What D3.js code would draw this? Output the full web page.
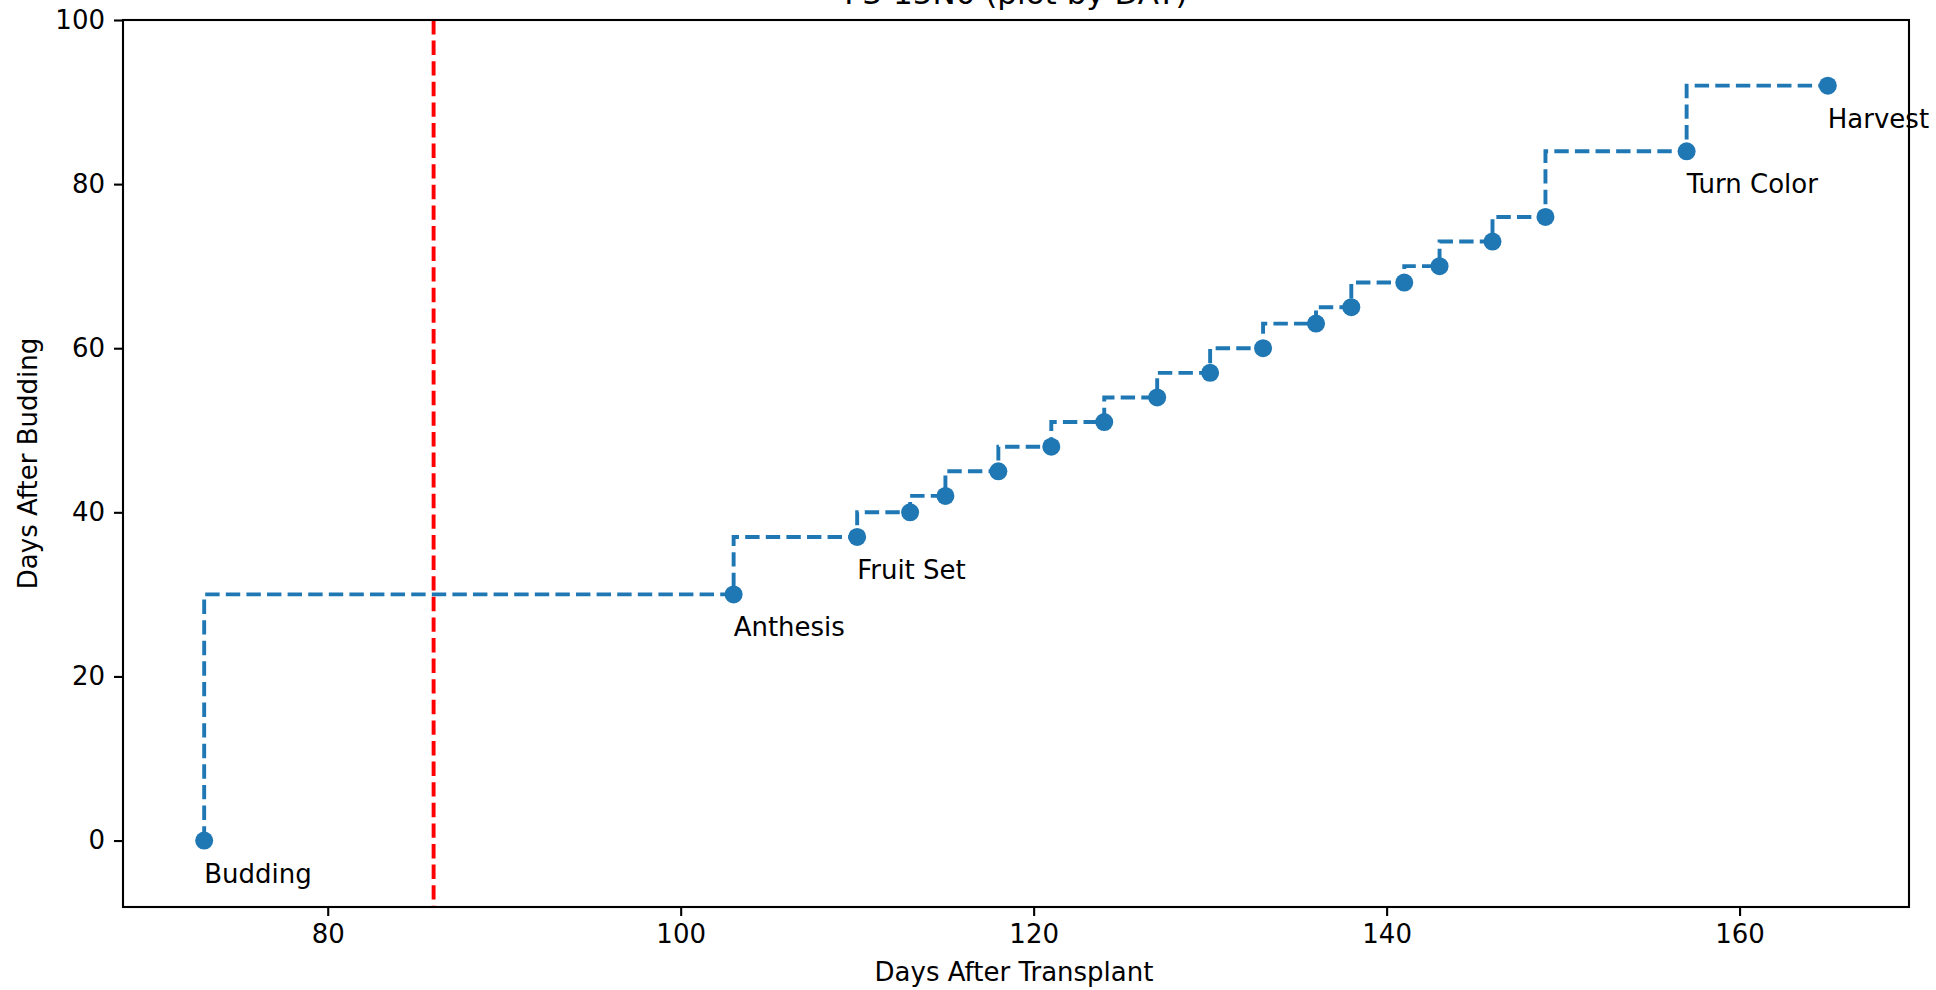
<!DOCTYPE html>
<html>
<head>
<meta charset="utf-8">
<script src="https://cdn.jsdelivr.net/npm/d3@7"></script>
<style>
  body { margin: 0; background: white; }
  text { font-family: "DejaVu Sans", sans-serif; }
</style>
</head>
<body>
<svg id="chart" width="1936" height="990"></svg>
<script>
// days after transplant / days after budding
const dat = [73, 103, 110, 113, 115, 118, 121, 124, 127, 130, 133, 136, 138, 141, 143, 146, 149, 157, 165];
const dab = [0, 30, 37, 40, 42, 45, 48, 51, 54, 57, 60, 63, 65, 68, 70, 73, 76, 84, 92];
const stageDat = [73, 103, 110, 157, 165];
const stageDab = [0, 30, 37, 84, 92];
const stageNames = ["Budding", "Anthesis", "Fruit Set", "Turn Color", "Harvest"];
const markerDat = [86];
const xTicks = [80, 100, 120, 140, 160];
const yTicks = [0, 20, 40, 60, 80, 100];

const margin = { left: 123, right: 1909, top: 20, bottom: 907 };
const fontSize = 26;
const blue = "#1f77b4";

const svg = d3.select("#chart");
svg.append("rect").attr("width", 1936).attr("height", 990).attr("fill", "white");

const x = d3.scaleLinear().domain([68.4, 169.6]).range([margin.left, margin.right]);
const y = d3.scaleLinear().domain([-8.1, 100]).range([margin.bottom, margin.top]);

const plot = svg.append("g");

// red reference line
plot.selectAll(".vline")
  .data(markerDat)
  .join("line")
  .attr("x1", (d) => x(d)).attr("x2", (d) => x(d))
  .attr("y1", margin.top).attr("y2", margin.bottom)
  .attr("stroke", "red")
  .attr("stroke-width", 3.9)
  .attr("stroke-dasharray", "14.4,6.2");

// step line
const points = dat.map((d, i) => [d, dab[i]]);
const line = d3.line()
  .x((d) => x(d[0]))
  .y((d) => y(d[1]))
  .curve(d3.curveStepBefore);

plot.append("path")
  .attr("d", line(points))
  .attr("fill", "none")
  .attr("stroke", blue)
  .attr("stroke-width", 3.9)
  .attr("stroke-dasharray", "14.4,6.2");

plot.selectAll("circle")
  .data(points)
  .join("circle")
  .attr("cx", (d) => x(d[0]))
  .attr("cy", (d) => y(d[1]))
  .attr("r", 9)
  .attr("fill", blue);

// stage labels
plot.selectAll(".stage")
  .data(stageNames)
  .join("text")
  .attr("class", "stage")
  .attr("x", (d, i) => x(stageDat[i]))
  .attr("y", (d, i) => y(stageDab[i]) + 42)
  .attr("font-size", fontSize)
  .attr("fill", "black")
  .text((d) => d);

// axes
const xAxis = d3.axisBottom(x).tickValues(xTicks).tickSize(9).tickPadding(9).tickSizeOuter(0);
const yAxis = d3.axisLeft(y).tickValues(yTicks).tickSize(9).tickPadding(9).tickSizeOuter(0);

svg.append("g")
  .attr("transform", `translate(0,${margin.bottom})`)
  .call(xAxis)
  .call((g) => g.select(".domain").remove())
  .call((g) => g.selectAll(".tick line").attr("stroke", "black").attr("stroke-width", 2.1))
  .call((g) => g.selectAll(".tick text").attr("font-size", fontSize).attr("font-family", "DejaVu Sans").attr("fill", "black"));

svg.append("g")
  .attr("transform", `translate(${margin.left},0)`)
  .call(yAxis)
  .call((g) => g.select(".domain").remove())
  .call((g) => g.selectAll(".tick line").attr("stroke", "black").attr("stroke-width", 2.1))
  .call((g) => g.selectAll(".tick text").attr("font-size", fontSize).attr("font-family", "DejaVu Sans").attr("fill", "black"));

// frame
svg.append("rect")
  .attr("x", margin.left).attr("y", margin.top)
  .attr("width", margin.right - margin.left)
  .attr("height", margin.bottom - margin.top)
  .attr("fill", "none")
  .attr("stroke", "black")
  .attr("stroke-width", 2.1);

// titles
const cx = (margin.left + margin.right) / 2;
svg.append("text")
  .attr("x", cx).attr("y", 4)
  .attr("text-anchor", "middle")
  .attr("font-size", 31)
  .text("F3-15N0 (plot by DAT)");

svg.append("text")
  .attr("x", cx - 2).attr("y", 981)
  .attr("text-anchor", "middle")
  .attr("font-size", fontSize)
  .text("Days After Transplant");

svg.append("text")
  .attr("transform", `translate(37,${(margin.top + margin.bottom) / 2}) rotate(-90)`)
  .attr("text-anchor", "middle")
  .attr("font-size", fontSize)
  .text("Days After Budding");
</script>
</body>
</html>
